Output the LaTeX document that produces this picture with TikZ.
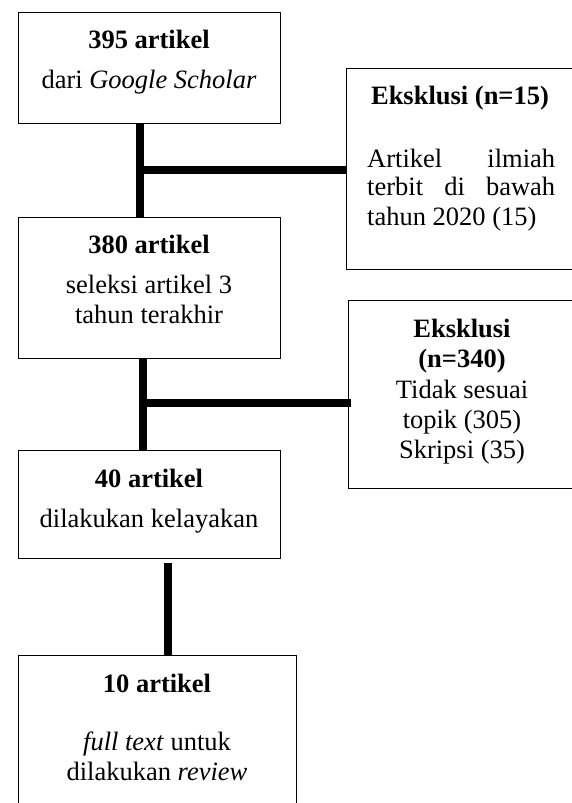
\documentclass[tikz,border=0pt]{standalone}
\usepackage{fontspec}
\setmainfont{Liberation Serif}
\begin{document}
\begin{tikzpicture}[x=1pt,y=-1pt,
  box/.style={draw, line width=1.1pt, inner sep=0pt, anchor=north west},
  conn/.style={line width=7.5pt, line cap=butt},
  shad/.style={line width=8pt, line cap=butt, draw=black!35, opacity=0.45},
  txt/.style={font=\fontsize{26.5}{30}\selectfont, inner sep=0pt, anchor=base},
  ttl/.style={txt, font=\fontsize{26.5}{30}\selectfont\bfseries}]
\useasboundingbox (0,0) rectangle (572,803);
\fill[white] (0,0) rectangle (572,803);
\clip (0,0) rectangle (572,803);

% boxes
\node[box, minimum width=262pt, minimum height=111pt] (b1) at (18,12) {};
\node[box, minimum width=262pt, minimum height=141pt] (b2) at (18,217) {};
\node[box, minimum width=262pt, minimum height=108pt] (b3) at (18,450) {};
\node[box, minimum width=278pt, minimum height=170pt] (b4) at (18,655) {};
\node[box, minimum width=240pt, minimum height=201pt] (r1) at (346,68) {};
\node[box, minimum width=240pt, minimum height=188pt] (r2) at (348,300) {};

% junction coordinates
\coordinate (j1) at (140,170);
\coordinate (j2) at (143,403);
\coordinate (e2) at (351,403);
\coordinate (v3) at (168,563);

% shadows
\begin{scope}[shift={(1.5,2)}]
\draw[shad] (b1.south -| j1) -- (b2.north -| j1);
\draw[shad] (j1) -- (j1 -| r1.west);
\draw[shad] (b2.south -| j2) -- (b3.north -| j2);
\draw[shad] (j2) -- (e2);
\draw[shad] (v3) -- (b4.north -| v3);
\end{scope}

% connectors
\draw[conn] (b1.south -| j1) -- (b2.north -| j1);
\draw[conn] (j1) -- (j1 -| r1.west);
\draw[conn] (b2.south -| j2) -- (b3.north -| j2);
\draw[conn] (j2) -- (e2);
\draw[conn] (v3) -- (b4.north -| v3);

% texts box 1
\node[ttl] (t1a) at (149,48) {395 artikel};
\node[txt] (t1b) at (149,88) {dari \textit{Google Scholar}};
% box 2
\node[ttl] (t2a) at (149,253) {380 artikel};
\node[txt] (t2b) at (149,293) {seleksi artikel 3};
\node[txt] (t2c) at (149,323) {tahun terakhir};
% box 3
\node[ttl] (t3a) at (149,487) {40 artikel};
\node[txt] (t3b) at (149,527) {dilakukan kelayakan};
% box 4
\node[ttl] (t4a) at (157,692) {10 artikel};
\node[txt] (t4b) at (157,750) {\textit{full text} untuk};
\node[txt] (t4c) at (157,780) {dilakukan \textit{review}};
% right box 1
\node[ttl] (r1a) at (460,104) {Eksklusi (n=15)};
\node[txt, anchor=base west] (r1b) at (367,167) {\makebox[188pt]{Artikel\hfill ilmiah}};
\node[txt, anchor=base west] (r1c) at (367,195) {\makebox[188pt]{terbit\hfill di\hfill bawah}};
\node[txt, anchor=base west] (r1d) at (367,225) {tahun 2020 (15)};
% right box 2
\node[ttl] (r2a) at (462,337) {Eksklusi};
\node[ttl] (r2b) at (462,367) {(n=340)};
\node[txt] (r2c) at (462,398) {Tidak sesuai};
\node[txt] (r2d) at (462,428) {topik (305)};
\node[txt] (r2e) at (462,458) {Skripsi (35)};
\end{tikzpicture}
\end{document}
